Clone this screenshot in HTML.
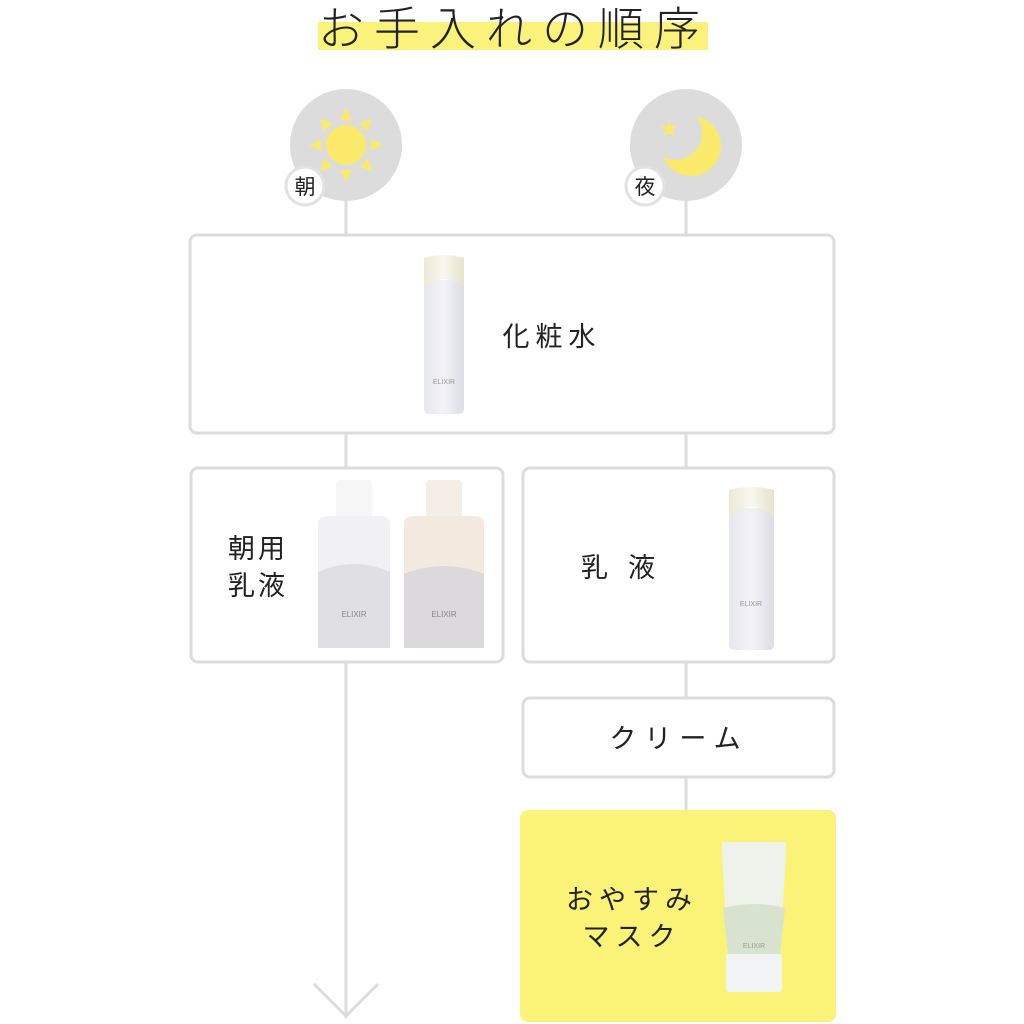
<!DOCTYPE html>
<html><head><meta charset="utf-8"><style>
html,body{margin:0;padding:0;background:#fff;}
svg{display:block;}
text{font-family:"Liberation Sans","Noto Sans CJK JP",sans-serif;fill:#222;}
</style></head><body>
<svg width="1024" height="1024" viewBox="0 0 1024 1024" xmlns="http://www.w3.org/2000/svg">
<defs>
<linearGradient id="bt" x1="0" x2="1"><stop offset="0" stop-color="#e6e7ee"/><stop offset="0.5" stop-color="#f3f3f7"/><stop offset="1" stop-color="#dcdde4"/></linearGradient>
<linearGradient id="cap" x1="0" x2="1"><stop offset="0" stop-color="#ece9d6"/><stop offset="0.5" stop-color="#faf8ee"/><stop offset="1" stop-color="#e6e2cc"/></linearGradient>
</defs>
<!-- title -->
<rect x="318" y="22" width="390" height="28" fill="#faf27a"/>
<text x="514" y="45" font-size="46" text-anchor="middle" font-weight="300" letter-spacing="10" style="font-family:'Noto Sans CJK JP',sans-serif">お手入れの順序</text>
<!-- lines -->
<g stroke="#dcdcdc" stroke-width="3" fill="none">
<line x1="346" y1="195" x2="346" y2="236"/>
<line x1="686" y1="195" x2="686" y2="236"/>
<line x1="346" y1="432" x2="346" y2="469"/>
<line x1="686" y1="432" x2="686" y2="469"/>
<line x1="346" y1="661" x2="346" y2="1018"/>
<line x1="686" y1="661" x2="686" y2="699"/>
<line x1="686" y1="776" x2="686" y2="812"/>
<polyline points="314,984 346,1016 378,984"/>
</g>
<!-- circles -->
<circle cx="346" cy="145" r="56" fill="#dcdcdc"/>
<circle cx="686" cy="145" r="56" fill="#dcdcdc"/>
<g fill="#fbe96b">
<circle cx="346" cy="145" r="20"/>
<g transform="translate(346,145)">
<polygon points="0,-37 -6,-25 6,-25"/><polygon points="0,37 -6,25 6,25"/>
<polygon points="-37,0 -25,-6 -25,6"/><polygon points="37,0 25,-6 25,6"/>
<g transform="rotate(45)"><polygon points="0,-37 -6,-25 6,-25"/><polygon points="0,37 -6,25 6,25"/><polygon points="-37,0 -25,-6 -25,6"/><polygon points="37,0 25,-6 25,6"/></g>
</g>
<circle cx="691" cy="146" r="30"/>
</g>
<circle cx="675" cy="133" r="27" fill="#dcdcdc"/>
<polygon fill="#fbe96b" points="669,119 671,126 678,126 672,130 675,137 669,133 663,137 666,130 660,126 667,126"/>
<circle cx="305" cy="186" r="19" fill="#fff" stroke="#e2e2e2" stroke-width="3"/>
<text x="305" y="194" font-size="21" text-anchor="middle">朝</text>
<circle cx="645" cy="186" r="19" fill="#fff" stroke="#e2e2e2" stroke-width="3"/>
<text x="645" y="194" font-size="21" text-anchor="middle">夜</text>
<!-- boxes -->
<g fill="#fff" stroke="#dcdcdc" stroke-width="3">
<rect x="190" y="235" width="644" height="198" rx="7"/>
<rect x="191" y="468" width="312" height="194" rx="7"/>
<rect x="523" y="468" width="311" height="194" rx="7"/>
<rect x="523" y="698" width="311" height="79" rx="7"/>
</g>
<rect x="520" y="810" width="316" height="212" rx="8" fill="#fbf377"/>
<!-- toner bottle -->
<rect x="424" y="280" width="40" height="134" rx="5" fill="url(#bt)"/>
<path d="M424,258 q20,-6 40,0 v30 q-20,-18 -40,0 Z" fill="url(#cap)"/>
<text x="444" y="384" font-size="7" text-anchor="middle" style="fill:#999">ELIXIR</text>
<text x="552" y="346" font-size="27" text-anchor="middle" letter-spacing="6">化粧水</text>
<!-- morning milks -->
<text x="258" y="558" font-size="27" text-anchor="middle" letter-spacing="3">朝用</text>
<text x="258" y="595" font-size="27" text-anchor="middle" letter-spacing="3">乳液</text>
<rect x="336" y="480" width="36" height="40" rx="4" fill="#f6f6f6"/>
<path d="M318,522 q2,-6 10,-6 h52 q8,0 10,6 v126 h-72 Z" fill="#f1f1f4"/>
<path d="M318,572 q36,-16 72,0 v76 h-72 Z" fill="#dfdfe4"/>
<text x="354" y="617" font-size="8" text-anchor="middle" style="fill:#888">ELIXIR</text>
<rect x="426" y="480" width="36" height="40" rx="4" fill="#f4eee6"/>
<path d="M404,522 q2,-6 10,-6 h60 q8,0 10,6 v126 h-80 Z" fill="#f4e9df"/>
<path d="M404,574 q40,-16 80,0 v74 h-80 Z" fill="#dbd9dc"/>
<text x="444" y="617" font-size="8" text-anchor="middle" style="fill:#888">ELIXIR</text>
<!-- night milk -->
<text x="628" y="577" font-size="27" text-anchor="middle" letter-spacing="20">乳液</text>
<rect x="729" y="508" width="45" height="142" rx="5" fill="url(#bt)"/>
<path d="M729,490 q22,-6 45,0 v26 q-22,-18 -45,0 Z" fill="url(#cap)"/>
<text x="751" y="606" font-size="7" text-anchor="middle" style="fill:#999">ELIXIR</text>
<text x="679" y="748" font-size="27" text-anchor="middle" letter-spacing="8">クリーム</text>
<!-- mask -->
<text x="632" y="909" font-size="27" text-anchor="middle" letter-spacing="6">おやすみ</text>
<text x="632" y="946" font-size="27" text-anchor="middle" letter-spacing="6">マスク</text>
<path d="M722,842 h64 v12 l-6,100 h-52 l-6,-100 Z" fill="#eef2ea"/>
<path d="M723,908 q32,-8 62,0 l-5,46 h-52 Z" fill="#d8e3cf"/>
<rect x="726" y="954" width="56" height="38" rx="3" fill="#f2f3f4"/>
<text x="754" y="948" font-size="7" text-anchor="middle" style="fill:#999">ELIXIR</text>
</svg>
</body></html>
